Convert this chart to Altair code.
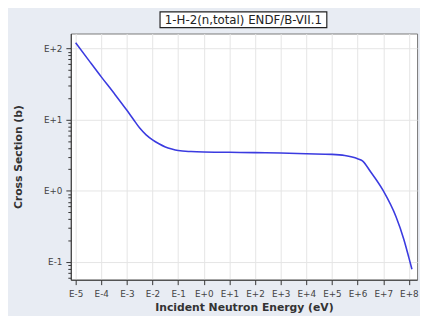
import altair as alt
import pandas as pd

energy_ev = [1e-5, 3.16e-5, 1e-4, 3.16e-4, 1e-3, 1.78e-3, 3.16e-3, 5.62e-3, 1e-2, 1.78e-2,
             3.16e-2, 5.62e-2, 0.1, 0.316, 1, 10, 100, 1e3, 1e4, 1e5, 3.16e5, 1e6, 1.55e6,
             3.16e6, 1e7, 3.16e7, 6.3e7, 1e8, 1.32e8]
xs_barn = [120, 69, 39.8, 23.4, 13.5, 10.1, 7.59, 6.1, 5.19, 4.57, 4.12, 3.85, 3.67, 3.55,
           3.5, 3.47, 3.43, 3.39, 3.31, 3.24, 3.12, 2.82, 2.63, 1.86, 1.0, 0.43, 0.21,
           0.115, 0.079]
x_decades = list(range(-5, 9))
title_text = "1-H-2(n,total) ENDF/B-VII.1"

df = pd.DataFrame({"E": energy_ev, "xs": xs_barn})

x_vals = [10.0 ** d for d in x_decades]
y_vals = []
for d in range(-2, 3):
    for m in range(1, 10):
        v = m * 10.0 ** d
        if 0.0562 <= v <= 162:
            y_vals.append(v)

is_major = "abs(log(datum.value)/LN10 - round(log(datum.value)/LN10)) < 0.001"
lab = "'E' + (round(log(datum.value)/LN10) >= 0 ? '+' : '') + round(log(datum.value)/LN10)"

W, H = 353, 251

line = alt.Chart(df).mark_line(color="#3b3be0", strokeWidth=1.6, clip=True,
                               interpolate="monotone").encode(
    x=alt.X("E:Q", scale=alt.Scale(type="log", domain=[6.46e-6, 2.09e8], nice=False),
            axis=alt.Axis(values=x_vals, labelExpr=lab, title="Incident Neutron Energy (eV)",
                          tickSize=5, labelPadding=5, titlePadding=3,
                          gridColor="#e4e4e4", domainColor="#333", tickColor="#333")),
    y=alt.Y("xs:Q", scale=alt.Scale(type="log", domain=[0.0562, 162], nice=False),
            axis=alt.Axis(values=y_vals,
                          labelExpr=f"({is_major}) ? {lab} : ''",
                          title="Cross Section (b)",
                          tickSize={"condition": {"test": is_major, "value": 5}, "value": 3},
                          gridOpacity={"condition": {"test": is_major, "value": 1}, "value": 0},
                          gridColor="#e4e4e4", domainColor="#333", tickColor="#333",
                          labelPadding=4, titlePadding=20)),
)

box = alt.Chart(pd.DataFrame({"t": [title_text]})).mark_rect(
    fill="white", stroke="#222", strokeWidth=1.2).encode(
    x=alt.value(91), x2=alt.value(261), y=alt.value(-22), y2=alt.value(-6))
txt = alt.Chart(pd.DataFrame({"t": [title_text]})).mark_text(
    font="DejaVu Sans", fontSize=12, color="#222", baseline="middle", align="center").encode(
    x=alt.value(176), y=alt.value(-13.5), text="t:N")

chart = alt.layer(line, box, txt).properties(
    width=W, height=H,
    autosize=alt.AutoSizeParams(type="none"),
    padding={"left": 64, "top": 23, "right": 3, "bottom": 34},
    background="#e8ecf3",
).configure_view(stroke="#777", fill="white").configure_axis(
    labelFont="DejaVu Sans", labelFontSize=9, labelColor="#444",
    titleFont="DejaVu Sans", titleFontSize=11, titleFontWeight="bold", titleColor="#333",
)

chart.save("out.html", embed_options={"renderer": "svg", "actions": False})
